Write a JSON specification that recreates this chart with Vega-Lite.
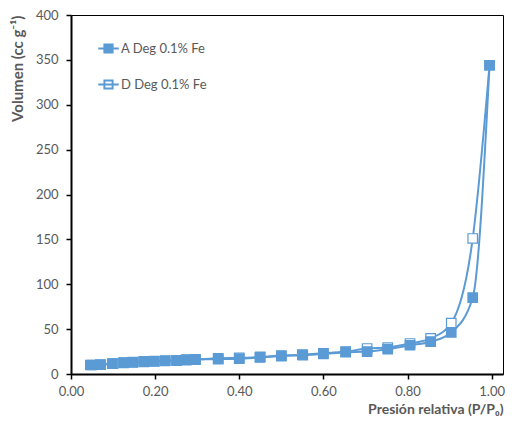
{
  "$schema": "https://vega.github.io/schema/vega-lite/v6.json",
  "width": 432,
  "height": 359,
  "autosize": {"type": "none"},
  "padding": {"left": 71, "top": 15, "right": 16, "bottom": 49},
  "background": "white",
  "config": {
    "font": "Lato",
    "view": {"stroke": "black", "strokeWidth": 1}
  },
  "datasets": {
    "iso": [
      {"p": 0.05, "v": 10, "s": "D Deg 0.1% Fe"},
      {"p": 0.07, "v": 10.5, "s": "D Deg 0.1% Fe"},
      {"p": 0.10, "v": 11.5, "s": "D Deg 0.1% Fe"},
      {"p": 0.125, "v": 12.5, "s": "D Deg 0.1% Fe"},
      {"p": 0.147, "v": 13, "s": "D Deg 0.1% Fe"},
      {"p": 0.173, "v": 13.5, "s": "D Deg 0.1% Fe"},
      {"p": 0.198, "v": 14, "s": "D Deg 0.1% Fe"},
      {"p": 0.224, "v": 14.5, "s": "D Deg 0.1% Fe"},
      {"p": 0.251, "v": 15, "s": "D Deg 0.1% Fe"},
      {"p": 0.274, "v": 15.5, "s": "D Deg 0.1% Fe"},
      {"p": 0.296, "v": 16, "s": "D Deg 0.1% Fe"},
      {"p": 0.35, "v": 17.5, "s": "D Deg 0.1% Fe"},
      {"p": 0.40, "v": 18, "s": "D Deg 0.1% Fe"},
      {"p": 0.45, "v": 19, "s": "D Deg 0.1% Fe"},
      {"p": 0.50, "v": 20.5, "s": "D Deg 0.1% Fe"},
      {"p": 0.55, "v": 21.5, "s": "D Deg 0.1% Fe"},
      {"p": 0.60, "v": 23, "s": "D Deg 0.1% Fe"},
      {"p": 0.653, "v": 25, "s": "D Deg 0.1% Fe"},
      {"p": 0.704, "v": 28.4, "s": "D Deg 0.1% Fe"},
      {"p": 0.753, "v": 29.5, "s": "D Deg 0.1% Fe"},
      {"p": 0.806, "v": 34, "s": "D Deg 0.1% Fe"},
      {"p": 0.855, "v": 39.6, "s": "D Deg 0.1% Fe"},
      {"p": 0.904, "v": 56.7, "s": "D Deg 0.1% Fe"},
      {"p": 0.955, "v": 151, "s": "D Deg 0.1% Fe"},
      {"p": 0.995, "v": 344, "s": "D Deg 0.1% Fe"},
      {"p": 0.046, "v": 10, "s": "A Deg 0.1% Fe"},
      {"p": 0.07, "v": 10.3, "s": "A Deg 0.1% Fe"},
      {"p": 0.098, "v": 11.6, "s": "A Deg 0.1% Fe"},
      {"p": 0.125, "v": 12.7, "s": "A Deg 0.1% Fe"},
      {"p": 0.147, "v": 13.2, "s": "A Deg 0.1% Fe"},
      {"p": 0.173, "v": 14, "s": "A Deg 0.1% Fe"},
      {"p": 0.198, "v": 14.3, "s": "A Deg 0.1% Fe"},
      {"p": 0.224, "v": 15, "s": "A Deg 0.1% Fe"},
      {"p": 0.251, "v": 15.3, "s": "A Deg 0.1% Fe"},
      {"p": 0.274, "v": 16, "s": "A Deg 0.1% Fe"},
      {"p": 0.296, "v": 16.2, "s": "A Deg 0.1% Fe"},
      {"p": 0.35, "v": 16.5, "s": "A Deg 0.1% Fe"},
      {"p": 0.40, "v": 17, "s": "A Deg 0.1% Fe"},
      {"p": 0.449, "v": 18.5, "s": "A Deg 0.1% Fe"},
      {"p": 0.50, "v": 20, "s": "A Deg 0.1% Fe"},
      {"p": 0.551, "v": 21, "s": "A Deg 0.1% Fe"},
      {"p": 0.60, "v": 22.4, "s": "A Deg 0.1% Fe"},
      {"p": 0.653, "v": 24.3, "s": "A Deg 0.1% Fe"},
      {"p": 0.704, "v": 25, "s": "A Deg 0.1% Fe"},
      {"p": 0.753, "v": 27.6, "s": "A Deg 0.1% Fe"},
      {"p": 0.806, "v": 32, "s": "A Deg 0.1% Fe"},
      {"p": 0.855, "v": 36, "s": "A Deg 0.1% Fe"},
      {"p": 0.904, "v": 46.3, "s": "A Deg 0.1% Fe"},
      {"p": 0.955, "v": 85, "s": "A Deg 0.1% Fe"},
      {"p": 0.995, "v": 344, "s": "A Deg 0.1% Fe"}
    ]
  },
  "data": {"name": "iso"},
  "encoding": {
    "x": {
      "field": "p", "type": "quantitative",
      "scale": {"domain": [0, 1.027], "nice": false, "zero": false},
      "axis": {
        "values": [0, 0.2, 0.4, 0.6, 0.8, 1.0],
        "format": ".2f",
        "labelFlush": false,
        "title": "Presión relativa (P/P₀)",
        "titleAnchor": "end",
        "titleAlign": "right",
        "titleFontSize": 14,
        "titleFontWeight": "bold",
        "titleColor": "#595959",
        "titlePadding": 4,
        "labelFontSize": 13,
        "labelColor": "#595959",
        "labelPadding": 6,
        "domainColor": "black",
        "domainWidth": 2,
        "tickColor": "black",
        "tickWidth": 1.5,
        "tickSize": 5,
        "grid": false
      }
    },
    "y": {
      "field": "v", "type": "quantitative",
      "scale": {"domain": [0, 400], "nice": false},
      "axis": {
        "values": [0, 50, 100, 150, 200, 250, 300, 350, 400],
        "labelFlush": false,
        "title": "Volumen (cc g⁻¹)",
        "titleAnchor": "end",
        "titleFontSize": 15,
        "titleFontWeight": "bold",
        "titleColor": "#595959",
        "titlePadding": 10,
        "labelFontSize": 13,
        "labelColor": "#595959",
        "labelPadding": 8,
        "domainColor": "black",
        "domainWidth": 2,
        "tickColor": "black",
        "tickWidth": 1.5,
        "tickSize": 5,
        "grid": false
      }
    }
  },
  "layer": [
    {
      "mark": {"type": "line", "interpolate": "monotone", "color": "#5B9BD5", "strokeWidth": 2},
      "encoding": {"detail": {"field": "s", "type": "nominal"}}
    },
    {
      "mark": {"type": "point", "shape": "square", "filled": true, "size": 90, "strokeWidth": 1.2, "opacity": 1},
      "encoding": {
        "stroke": {"value": "#5B9BD5"},
        "fill": {
          "field": "s", "type": "nominal",
          "scale": {"domain": ["A Deg 0.1% Fe", "D Deg 0.1% Fe"], "range": ["#5B9BD5", "white"]},
          "legend": {
            "orient": "none",
            "legendX": 26,
            "legendY": 22,
            "title": null,
            "symbolType": "M-1,0H1M-0.4,-0.4H0.4V0.4H-0.4Z",
            "symbolSize": 420,
            "symbolStrokeColor": "#5B9BD5",
            "symbolStrokeWidth": 2,
            "symbolOpacity": 1,
            "labelFontSize": 13,
            "labelColor": "#595959",
            "labelOffset": 1,
            "rowPadding": 16
          }
        },
        "order": {"field": "s", "sort": "descending"}
      }
    }
  ]
}
